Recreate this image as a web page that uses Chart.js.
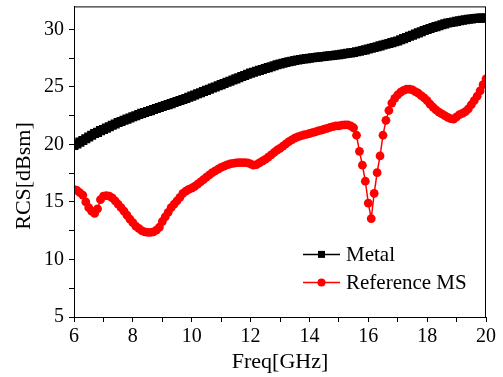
<!DOCTYPE html>
<html><head><meta charset="utf-8">
<script src="https://cdn.jsdelivr.net/npm/chart.js@4/dist/chart.umd.min.js"></script>
<style>html,body{margin:0;padding:0;background:#fff}</style>
</head><body>
<canvas id="c" width="503" height="377"></canvas>
<script>
const freq = [
 6.0,6.1,6.2,6.3,6.4,6.5,6.6,6.7,6.8,6.9,
 7.0,7.1,7.2,7.3,7.4,7.5,7.6,7.7,7.8,7.9,
 8.0,8.1,8.2,8.3,8.4,8.5,8.6,8.7,8.8,8.9,
 9.0,9.1,9.2,9.3,9.4,9.5,9.6,9.7,9.8,9.9,
 10.0,10.1,10.2,10.3,10.4,10.5,10.6,10.7,10.8,10.9,
 11.0,11.1,11.2,11.3,11.4,11.5,11.6,11.7,11.8,11.9,
 12.0,12.1,12.2,12.3,12.4,12.5,12.6,12.7,12.8,12.9,
 13.0,13.1,13.2,13.3,13.4,13.5,13.6,13.7,13.8,13.9,
 14.0,14.1,14.2,14.3,14.4,14.5,14.6,14.7,14.8,14.9,
 15.0,15.1,15.2,15.3,15.4,15.5,15.6,15.7,15.8,15.9,
 16.0,16.1,16.2,16.3,16.4,16.5,16.6,16.7,16.8,16.9,
 17.0,17.1,17.2,17.3,17.4,17.5,17.6,17.7,17.8,17.9,
 18.0,18.1,18.2,18.3,18.4,18.5,18.6,18.7,18.8,18.9,
 19.0,19.1,19.2,19.3,19.4,19.5,19.6,19.7,19.8,19.9,
 20.0];
const metal = [
 19.9,20.05,20.2,20.35,20.5,20.65,20.8,20.95,21.05,21.2,
 21.3,21.42,21.54,21.66,21.78,21.9,22.0,22.1,22.2,22.3,
 22.4,22.5,22.6,22.7,22.78,22.86,22.94,23.03,23.12,23.22,
 23.3,23.38,23.46,23.55,23.64,23.73,23.82,23.91,24.0,24.1,
 24.2,24.3,24.4,24.5,24.6,24.7,24.8,24.9,25.0,25.1,
 25.2,25.3,25.4,25.5,25.6,25.7,25.8,25.9,26.0,26.1,
 26.2,26.28,26.36,26.44,26.52,26.6,26.68,26.76,26.84,26.92,
 27.0,27.06,27.12,27.18,27.24,27.3,27.34,27.38,27.42,27.46,
 27.5,27.53,27.56,27.59,27.62,27.65,27.68,27.71,27.74,27.77,
 27.8,27.84,27.88,27.92,27.96,28.0,28.05,28.1,28.16,28.22,
 28.3,28.36,28.43,28.5,28.57,28.64,28.71,28.78,28.85,28.92,
 29.0,29.1,29.2,29.3,29.4,29.5,29.6,29.7,29.8,29.9,
 30.0,30.08,30.16,30.24,30.32,30.4,30.48,30.55,30.6,30.65,
 30.7,30.75,30.8,30.84,30.88,30.91,30.94,30.96,30.98,30.99,
 31.0];
const referenceMS = [
 16.1,16.0,15.8,15.6,15.0,14.5,14.2,14.0,14.4,15.2,
 15.5,15.55,15.5,15.35,15.1,14.8,14.5,14.2,13.85,13.5,
 13.2,12.9,12.7,12.5,12.4,12.35,12.35,12.4,12.55,12.8,
 13.3,13.7,14.1,14.5,14.8,15.1,15.4,15.75,15.95,16.1,
 16.2,16.35,16.55,16.75,16.95,17.15,17.35,17.55,17.7,17.85,
 18.0,18.12,18.22,18.3,18.36,18.4,18.42,18.42,18.42,18.4,
 18.3,18.2,18.25,18.4,18.55,18.7,18.9,19.1,19.3,19.5,
 19.65,19.85,20.05,20.25,20.4,20.55,20.65,20.75,20.82,20.88,
 20.95,21.02,21.1,21.18,21.25,21.32,21.4,21.48,21.55,21.62,
 21.62,21.68,21.7,21.7,21.62,21.45,20.8,19.4,18.2,16.8,
 14.9,13.55,15.75,17.55,19.0,20.8,22.1,22.95,23.6,24.0,
 24.3,24.55,24.7,24.8,24.8,24.75,24.6,24.45,24.25,24.05,
 23.8,23.5,23.25,23.0,22.8,22.65,22.5,22.35,22.25,22.2,
 22.4,22.6,22.7,22.85,23.1,23.45,23.8,24.2,24.65,25.2,
 25.7];
const seriesNames = ['Metal', 'Reference MS'];
const xTitle = 'Freq[GHz]';
const yTitle = 'RCS[dBsm]';
const xTicks = [6,7,8,9,10,11,12,13,14,15,16,17,18,19,20];
const xLabels = [6,8,10,12,14,16,18,20];
const yTicks = [5,7.5,10,12.5,15,17.5,20,22.5,25,27.5,30];
const yLabels = [5,10,15,20,25,30];

const FONT = '"Liberation Serif", "Times New Roman", serif';

const toPts = arr => arr.map((v, i) => ({x: freq[i], y: v}));

const boxPlugin = {
  id: 'box',
  afterDraw(chart) {
    const {ctx, chartArea: a} = chart;
    ctx.save();
    ctx.strokeStyle = '#000';
    ctx.lineWidth = 1;
    ctx.strokeRect(a.left + 0.5, a.top + 0.5, a.right - a.left - 1, a.bottom - a.top);
    // y-axis title
    ctx.fillStyle = '#000';
    ctx.font = '22px ' + FONT;
    ctx.textAlign = 'center';
    ctx.textBaseline = 'middle';
    ctx.translate(24, 176);
    ctx.rotate(-Math.PI / 2);
    ctx.fillText(yTitle, 0, 0);
    ctx.setTransform(1, 0, 0, 1, 0, 0);
    // legend
    const rows = [a.top + 248, a.top + 276];
    chart.data.datasets.forEach((ds, i) => {
      const y = rows[i];
      const x0 = a.left + 229, x1 = a.left + 266;
      ctx.strokeStyle = ds.borderColor;
      ctx.lineWidth = 1.5;
      ctx.beginPath(); ctx.moveTo(x0, y); ctx.lineTo(x1, y); ctx.stroke();
      ctx.fillStyle = ds.pointBackgroundColor;
      const cx = (x0 + x1) / 2;
      if (ds.pointStyle === 'rect') {
        ctx.fillRect(cx - 3.5, y - 3.5, 7, 7);
      } else {
        ctx.beginPath(); ctx.arc(cx, y, 4, 0, Math.PI * 2); ctx.fill();
      }
      ctx.fillStyle = '#000';
      ctx.font = '21px ' + FONT;
      ctx.textBaseline = 'middle';
      ctx.textAlign = 'left';
      ctx.fillText(ds.label, a.left + 272, y + 1);
    });
    ctx.restore();
  }
};

new Chart(document.getElementById('c'), {
  type: 'line',
  data: {
    datasets: [
      {label: seriesNames[0], data: toPts(metal), borderColor: '#000', backgroundColor: '#000',
       pointBackgroundColor: '#000', pointBorderColor: '#000', pointStyle: 'rect', pointRadius: 6.4,
       pointBorderWidth: 0, borderWidth: 1.5, clip: 0},
      {label: seriesNames[1], data: toPts(referenceMS), borderColor: '#ff0000', backgroundColor: '#ff0000',
       pointBackgroundColor: '#ff0000', pointBorderColor: '#ff0000', pointStyle: 'circle', pointRadius: 4.4,
       pointBorderWidth: 0, borderWidth: 1.5, clip: 0}
    ]
  },
  options: {
    responsive: false,
    animation: false,
    layout: {padding: {left: 0, top: 5, right: 17, bottom: 0}},
    plugins: {legend: {display: false}, tooltip: {enabled: false}},
    scales: {
      x: {
        type: 'linear', min: 6, max: 20,
        afterFit(s) { s.height = 60; s.paddingLeft = 0; s.paddingRight = 0; },
        afterBuildTicks(s) { s.ticks = xTicks.map(v => ({value: v})); },
        grid: {drawOnChartArea: false, drawTicks: true, tickLength: 5, color: '#000'},
        border: {display: true, color: '#000', width: 1},
        ticks: {color: '#000', font: {family: FONT, size: 20}, padding: 3, maxRotation: 0, autoSkip: false,
          callback: v => xLabels.includes(v) ? String(v) : ''},
        title: {display: true, text: xTitle, color: '#000', font: {family: FONT, size: 22}, padding: {top: 0, bottom: 2}}
      },
      y: {
        type: 'linear', min: 5, max: 32,
        afterFit(s) { s.width = 74; s.paddingTop = 0; s.paddingBottom = 0; },
        afterBuildTicks(s) { s.ticks = yTicks.map(v => ({value: v})); },
        grid: {drawOnChartArea: false, drawTicks: true, tickLength: 5, color: '#000'},
        border: {display: true, color: '#000', width: 1},
        ticks: {color: '#000', font: {family: FONT, size: 20}, padding: 5, autoSkip: false,
          callback: v => yLabels.includes(v) ? String(v) : ''},
        title: {display: false, text: yTitle}
      }
    }
  },
  plugins: [boxPlugin]
});
</script>
</body></html>
